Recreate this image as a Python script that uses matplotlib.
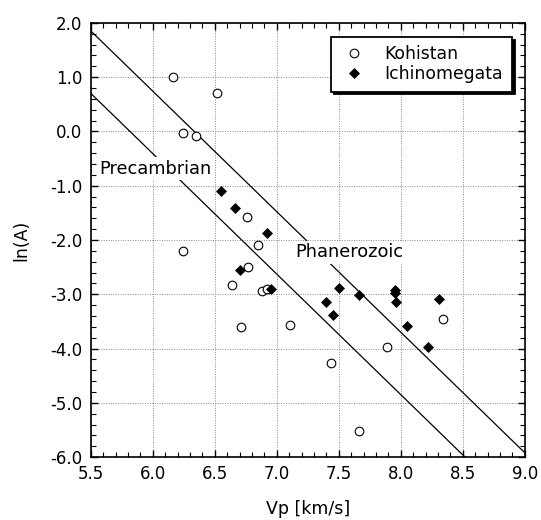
import numpy as np
import matplotlib
matplotlib.use("Agg")
import matplotlib.pyplot as plt
from matplotlib.ticker import MultipleLocator, FormatStrFormatter

plt.rcParams['font.family'] = ['DejaVu Sans']
plt.rcParams['axes.unicode_minus'] = False

# Kohistan samples (open circles)
koh_vp = [6.16, 6.52, 6.24, 6.35, 6.76, 6.85, 6.24, 6.77, 6.64, 6.88,
          6.92, 6.71, 7.11, 7.44, 7.66, 7.89, 8.34]
koh_lnA = [1.00, 0.70, -0.03, -0.09, -1.58, -2.09, -2.20, -2.49, -2.83, -2.94,
           -2.91, -3.61, -3.57, -4.27, -5.52, -3.97, -3.45]

# Ichinomegata samples (filled diamonds)
ich_vp = [6.55, 6.66, 6.92, 6.70, 6.95, 7.50, 7.40, 7.45, 7.66, 7.95,
          7.95, 7.96, 8.05, 8.22, 8.31]
ich_lnA = [-1.09, -1.41, -1.88, -2.55, -2.90, -2.89, -3.15, -3.38, -3.01, -2.92,
           -2.97, -3.15, -3.58, -3.97, -3.09]

# boundary lines: lnA = b - slope*(Vp - 5.5)
slope = 2.22
b_phan = 1.85
b_prec = 0.70

fig = plt.figure(figsize=(5.41, 5.20), dpi=100)
ax = fig.add_axes([0.168, 0.121, 0.802, 0.835])

ax.grid(True, which='major', linestyle=(0, (1, 1.5)), color='#888888', linewidth=0.7)
ax.set_axisbelow(True)

xs = np.array([5.5, 9.0])
ax.plot(xs, b_phan - slope * (xs - 5.5), color='black', lw=0.9, zorder=2)
ax.plot(xs, b_prec - slope * (xs - 5.5), color='black', lw=0.9, zorder=2)

ax.plot(koh_vp, koh_lnA, 'o', ms=6.2, mfc='white', mec='black', mew=0.8,
        ls='none', label='Kohistan', zorder=4)
ax.plot(ich_vp, ich_lnA, 'D', ms=4.6, mfc='black', mec='black', mew=0.5,
        ls='none', label='Ichinomegata', zorder=4)

ax.text(5.57, -0.685, 'Precambrian', fontsize=12.8, va='center', ha='left',
        bbox=dict(facecolor='white', edgecolor='none', pad=2), zorder=3)
ax.text(7.145, -2.23, 'Phanerozoic', fontsize=12.8, va='center', ha='left',
        bbox=dict(facecolor='white', edgecolor='none', pad=2), zorder=3)

ax.set_xlim(5.5, 9.0)
ax.set_ylim(-6.0, 2.0)
ax.xaxis.set_major_locator(MultipleLocator(0.5))
ax.xaxis.set_minor_locator(MultipleLocator(0.1))
ax.yaxis.set_major_locator(MultipleLocator(1.0))
ax.yaxis.set_minor_locator(MultipleLocator(0.2))
ax.xaxis.set_major_formatter(FormatStrFormatter('%.1f'))
ax.yaxis.set_major_formatter(FormatStrFormatter('%.1f'))
ax.tick_params(which='both', direction='in', top=True, right=True, labelsize=12)
ax.tick_params(which='major', length=5, width=1.0, pad=6)
ax.tick_params(which='minor', length=3.5, width=0.8)
for s in ax.spines.values():
    s.set_linewidth(1.2)

ax.set_xlabel('Vp [km/s]', fontsize=12.5, labelpad=12)
ax.set_ylabel('ln(A)', fontsize=12.5, labelpad=14)

leg = ax.legend(loc='upper right', bbox_to_anchor=(0.97, 0.968), borderaxespad=0,
                fancybox=False, shadow={'color': 'black', 'alpha': 1.0},
                fontsize=12.4, handlelength=1.7, handletextpad=0.9,
                borderpad=0.5, labelspacing=0.1, framealpha=1, edgecolor='black')
leg.get_frame().set_linewidth(1.3)

fig.savefig('out.png', dpi=100)
